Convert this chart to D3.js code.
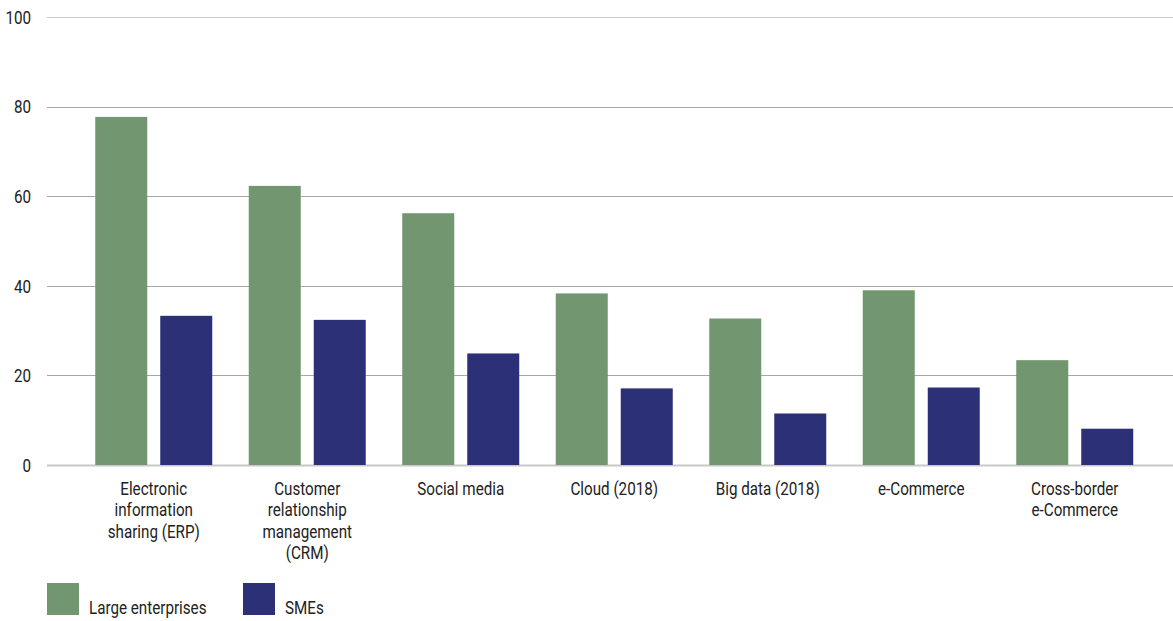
<!DOCTYPE html>
<html>
<head>
<meta charset="utf-8">
<script src="https://cdn.jsdelivr.net/npm/d3@7"></script>
<style>
  body { margin: 0; background: #fff; }
  svg text { font-family: Roboto, "DejaVu Sans", sans-serif; fill: #222; font-size: 19px; }
</style>
</head>
<body>
<svg id="chart" width="1173" height="621"></svg>
<script>
// ============== Data ==============
const categories = [
  ['Electronic', 'information', 'sharing (ERP)'],
  ['Customer', 'relationship', 'management', '(CRM)'],
  ['Social media'],
  ['Cloud (2018)'],
  ['Big data (2018)'],
  ['e-Commerce'],
  ['Cross-border', 'e-Commerce']
];
const seriesNames = ['Large enterprises', 'SMEs'];
const largeValues = [77.7, 62.3, 56.2, 38.3, 32.7, 39.0, 23.4];
const smeValues = [33.3, 32.4, 24.9, 17.1, 11.5, 17.3, 8.1];
const yTicks = [0, 20, 40, 60, 80, 100];
const colors = ['#72966f', '#2c3077'];

// the reference type is a condensed face, squeeze text horizontally
const squeeze = 0.8;

const svg = d3.select('#chart');

// ============== Scales ==============
const catKeys = categories.map(d => d.join(' '));
const x0 = d3.scaleBand()
  .domain(catKeys)
  .range([77, 1151.5])
  .padding(0);

const x1 = d3.scaleBand()
  .domain(seriesNames)
  .range([18.25, 135.25])
  .paddingInner(0.2);

const y = d3.scaleLinear()
  .domain([0, 100])
  .range([465, 17]);

// ============== Grid ==============
svg.append('g')
  .selectAll('line')
  .data(yTicks)
  .join('line')
    .attr('x1', 47)
    .attr('x2', 1173)
    .attr('y1', d => Math.round(y(d)) + 0.5)
    .attr('y2', d => Math.round(y(d)) + 0.5)
    .attr('stroke', d => (d === 0 || d === 100) ? '#c8c8c8' : '#a8a8a8')
    .attr('stroke-width', d => d === 0 ? 2 : 1);

svg.append('g')
  .selectAll('text')
  .data(yTicks)
  .join('text')
    .attr('transform', d => `translate(31,${y(d)}) scale(${squeeze},1)`)
    .attr('dy', '0.36em')
    .attr('text-anchor', 'end')
    .text(d => d);

// ============== Bars ==============
const rows = catKeys.map((k, i) => ({key: k, values: [largeValues[i], smeValues[i]]}));

const groups = svg.append('g')
  .selectAll('g')
  .data(rows)
  .join('g')
    .attr('transform', d => `translate(${x0(d.key)},0)`);

groups.selectAll('rect')
  .data(d => d.values.map((v, j) => ({name: seriesNames[j], value: v, j})))
  .join('rect')
    .attr('x', d => x1(d.name))
    .attr('width', x1.bandwidth())
    .attr('y', d => y(d.value))
    .attr('height', d => y(0) - y(d.value))
    .attr('fill', d => colors[d.j]);

// ============== Category labels ==============
const labels = svg.append('g')
  .selectAll('text')
  .data(categories)
  .join('text')
    .attr('text-anchor', 'middle')
    .attr('transform', (d, i) =>
      `translate(${x0(catKeys[i]) + x0.bandwidth() / 2},495) scale(${squeeze},1)`);

labels.selectAll('tspan')
  .data(d => d)
  .join('tspan')
    .attr('x', 0)
    .attr('y', (d, i) => i * 21.5)
    .text(d => d);

// ============== Legend ==============
const legendX = [47, 243];
const legend = svg.append('g')
  .selectAll('g')
  .data(seriesNames)
  .join('g')
    .attr('transform', (d, i) => `translate(${legendX[i]},583)`);

legend.append('rect')
  .attr('width', 32)
  .attr('height', 32)
  .attr('fill', (d, i) => colors[i]);

legend.append('text')
  .attr('transform', `translate(42,31) scale(${squeeze},1)`)
  .text(d => d);
</script>
</body>
</html>
